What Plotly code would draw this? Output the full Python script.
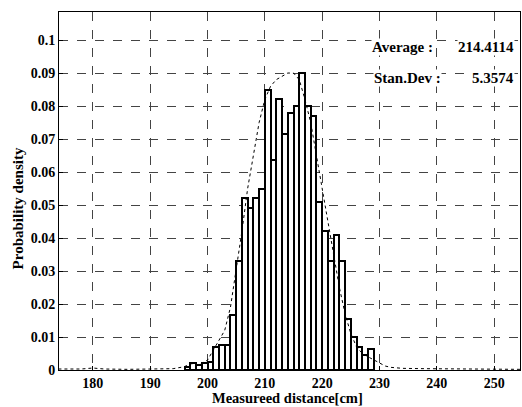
import plotly.graph_objects as go

# Histogram bins (left edge, cm) and probability density
bin_left = [196, 197, 198, 199, 200, 201, 202, 203, 204, 205, 206, 207, 208, 209,
            210, 211, 212, 213, 214, 215, 216, 217, 218, 219, 220, 221, 222, 223,
            224, 225, 226, 227, 228]
density = [0.001, 0.002, 0.0015, 0.002, 0.0025, 0.007, 0.0075, 0.0076, 0.0166, 0.033,
           0.052, 0.049, 0.052, 0.055, 0.085, 0.0636, 0.082, 0.0716, 0.078, 0.080,
           0.090, 0.080, 0.077, 0.051, 0.042, 0.033, 0.041, 0.033, 0.0156, 0.010,
           0.007, 0.0045, 0.0065]

# Dotted envelope curve
curve_x = [174, 178, 180, 182, 186, 190, 194, 196, 197, 198, 199, 200, 201, 202, 203,
           204, 205, 206, 207, 208, 209, 210, 211, 212, 213, 214, 215, 216, 217, 218,
           219, 220, 221, 222, 223, 224, 225, 226, 227, 228, 229, 230, 231, 232, 234,
           238, 244, 250, 254.5]
curve_y = [0.0003, 0.0003, 0.0006, 0.0003, 0.0002, 0.0003, 0.0004, 0.001, 0.002, 0.0015,
           0.002, 0.003, 0.006, 0.009, 0.012, 0.019, 0.030, 0.042, 0.055, 0.065, 0.075,
           0.082, 0.086, 0.088, 0.089, 0.090, 0.090, 0.088, 0.082, 0.075, 0.065, 0.055,
           0.045, 0.035, 0.025, 0.017, 0.011, 0.007, 0.005, 0.004, 0.003, 0.002, 0.0012,
           0.0008, 0.0005, 0.0004, 0.0003, 0.0003, 0.0002]

x_ticks = [180, 190, 200, 210, 220, 230, 240, 250]
y_ticks = [0, 0.01, 0.02, 0.03, 0.04, 0.05, 0.06, 0.07, 0.08, 0.09, 0.1]
y_tick_text = ["0", "0.01", "0.02", "0.03", "0.04", "0.05", "0.06", "0.07", "0.08", "0.09", "0.1"]

avg_label, avg_value = "Average :", "214.4114"
sd_label, sd_value = "Stan.Dev :", "5.3574"
x_title = "Measureed distance[cm]"
y_title = "Probability density"

FONT = "Liberation Serif"

fig = go.Figure()
fig.add_trace(go.Bar(
    x=[b + 0.5 for b in bin_left], y=density, width=1.0,
    marker=dict(color="white", line=dict(color="black", width=2)),
    showlegend=False,
))
fig.add_trace(go.Scatter(
    x=curve_x, y=curve_y, mode="lines",
    line=dict(color="black", width=1, dash="dot"),
    showlegend=False,
))

axis_common = dict(
    showline=True, linecolor="black", linewidth=1, mirror=True,
    showgrid=True, gridcolor="#444444", gridwidth=1, griddash="dash",
    zeroline=False, ticks="inside", ticklen=4, tickcolor="black",
    tickfont=dict(family=FONT, size=14, color="black", weight="bold"),
    layer="below traces",
)

fig.update_layout(
    width=522, height=407,
    margin=dict(l=59, r=2, t=12, b=37),
    paper_bgcolor="white", plot_bgcolor="white",
    bargap=0,
    xaxis=dict(range=[174.1, 254.5], tickvals=x_ticks, **axis_common),
    yaxis=dict(range=[0, 0.1085], tickvals=y_ticks, ticktext=y_tick_text, **axis_common),
    font=dict(family=FONT, color="black"),
)

bold = dict(family=FONT, size=15, color="black", weight="bold")
ann = [
    dict(text=avg_label, x=0.677, y=0.0978, xref="paper", yref="y", xanchor="left",
         yanchor="middle", showarrow=False, font=bold, bgcolor="white", borderpad=0),
    dict(text=avg_value, x=0.990, y=0.0978, xref="paper", yref="y", xanchor="right",
         yanchor="middle", showarrow=False, font=bold, bgcolor="white", borderpad=0),
    dict(text=sd_label, x=0.682, y=0.0885, xref="paper", yref="y", xanchor="left",
         yanchor="middle", showarrow=False, font=bold, bgcolor="white", borderpad=0),
    dict(text=sd_value, x=0.990, y=0.0885, xref="paper", yref="y", xanchor="right",
         yanchor="middle", showarrow=False, font=bold, bgcolor="white", borderpad=0),
    dict(text=x_title, x=0.495, y=-0.078, xref="paper", yref="paper", xanchor="center",
         yanchor="middle", showarrow=False,
         font=dict(family=FONT, size=14.5, color="black", weight="bold")),
    dict(text=y_title, x=-0.09, y=0.45, xref="paper", yref="paper", xanchor="center",
         yanchor="middle", showarrow=False, textangle=-90,
         font=dict(family=FONT, size=15, color="black", weight="bold")),
]
fig.update_layout(annotations=ann)

fig.write_html("out.html", config={"displayModeBar": False},
               post_script="document.body.style.margin='0';")
